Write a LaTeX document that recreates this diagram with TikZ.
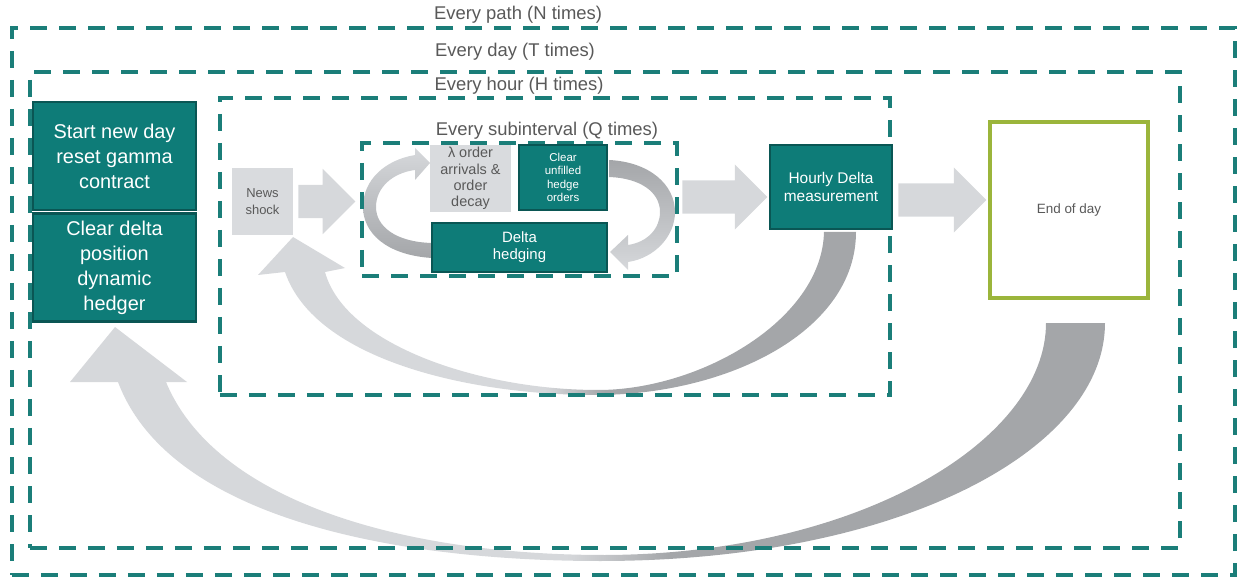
\documentclass[tikz,border=0pt]{standalone}
\usepackage{fontspec}
\setmainfont{Liberation Sans}
\usetikzlibrary{shapes.arrows,calc}
\definecolor{tealbox}{HTML}{0E7C78}
\definecolor{tealedge}{HTML}{0A5654}
\definecolor{dashteal}{HTML}{1B7E79}
\definecolor{greybox}{HTML}{D9DBDE}
\definecolor{arrowlight}{HTML}{D6D8DB}
\definecolor{arrowdark}{HTML}{A4A6A9}
\definecolor{olive}{HTML}{9BB53B}
\definecolor{labelgrey}{HTML}{595959}
\pgfdeclarehorizontalshading{ribbon}{100bp}{color(0bp)=(arrowlight); color(49bp)=(arrowlight); color(54bp)=(arrowdark); color(100bp)=(arrowdark)}
\tikzset{
  loopbox/.style={draw=dashteal, line width=4.5bp, dash pattern=on 17bp off 12bp, inner sep=0pt},
  looplabel/.style={text=labelgrey, font=\fontsize{18.5}{21}\selectfont, inner sep=1pt},
  tealnode/.style={fill=tealbox, draw=tealedge, line width=2.5bp, text=white, align=center, inner sep=0pt},
  greynode/.style={fill=greybox, text=labelgrey, align=center, inner sep=0pt},
  blockarrow/.style={single arrow, fill=arrowlight, inner xsep=0pt, inner ysep=16.5bp, single arrow head extend=16bp, single arrow head indent=0pt, anchor=tail},
  bigribbon/.style={shading=ribbon}
}
\begin{document}
\begin{tikzpicture}[x=1bp,y=-1bp]
\useasboundingbox (0,0) rectangle (1244,579);

% curved arrows, behind the boxes
\shade[top color=arrowlight, bottom color=arrowdark] (432,258) .. controls (385,255) and (363,232) .. (363,207) .. controls (363,180) and (385,160) .. (415,155) -- (415,148) -- (430,163) -- (415,180) -- (415,170) .. controls (392,173) and (376,188) .. (376,207) .. controls (376,226) and (395,242) .. (432,243) -- cycle;
\shade[top color=arrowdark, bottom color=arrowlight] (609,160) .. controls (650,162) and (675,185) .. (675,212) .. controls (675,236) and (655,258) .. (628,262) -- (628,270) -- (610,252) -- (628,235) -- (628,245) .. controls (648,242) and (660,228) .. (660,212) .. controls (660,192) and (640,178) .. (609,177) -- cycle;
\shade[bigribbon] (285,272) .. controls (315,360) and (470,395) .. (595,395) .. controls (730,395) and (856,330) .. (856,232) -- (824,232) .. controls (822,320) and (700,390) .. (598,390) .. controls (480,390) and (345,345) .. (325,272) -- (345,268) -- (293,237) -- (258,275) -- cycle;
\shade[bigribbon] (118,382) .. controls (170,520) and (400,561) .. (600,561) .. controls (900,561) and (1105,450) .. (1105,323) -- (1046,323) .. controls (1046,440) and (860,554) .. (605,555) .. controls (400,555) and (215,500) .. (166,382) -- (187,382) -- (115,327) -- (70,382) -- cycle;

\node[loopbox, minimum width=1223bp, minimum height=547bp] (path) at (623.5,301.5) {};
\node[loopbox, minimum width=1150bp, minimum height=476bp] (day) at (605,310) {};
\node[loopbox, minimum width=670bp, minimum height=297bp] (hour) at (555,246.5) {};
\node[loopbox, minimum width=315bp, minimum height=133bp] (sub) at (519.5,209.5) {};
\node[looplabel] (pathlabel) at (518,15) {Every path (N times)};
\node[looplabel] (daylabel) at (515,52) {Every day (T times)};
\node[looplabel] (hourlabel) at (519,86) {Every hour (H times)};
\node[looplabel] (sublabel) at (547,131) {Every subinterval (Q times)};

\node[tealnode, minimum width=163bp, minimum height=108bp, font=\fontsize{20}{25}\selectfont] (start) at (114.5,156) {Start new day\\reset gamma\\contract};
\node[tealnode, minimum width=163bp, minimum height=108bp, font=\fontsize{20}{25}\selectfont] (cleardelta) at (114.5,267.5) {Clear delta\\position\\dynamic\\hedger};
\node[greynode, minimum width=61bp, minimum height=67bp, font=\fontsize{13}{17}\selectfont] (news) at (262.5,201.5) {News\\shock};
\node[greynode, minimum width=81bp, minimum height=67bp, font=\fontsize{14.5}{16.5}\selectfont] (arrivals) at (470.5,178.5) {λ order\\arrivals \&\\order\\decay};
\node[tealnode, minimum width=88bp, minimum height=65bp, font=\fontsize{11.5}{13.5}\selectfont] (clearorders) at (563,177.5) {Clear\\unfilled\\hedge\\orders};
\node[tealnode, minimum width=175bp, minimum height=49bp, font=\fontsize{15}{17}\selectfont] (hedging) at (519.5,247.5) {Delta\\hedging};
\node[tealnode, minimum width=122bp, minimum height=84bp, font=\fontsize{15.5}{19}\selectfont] (hourly) at (831,187) {Hourly Delta\\measurement};
\node[draw=olive, line width=4bp, fill=white, text=labelgrey, minimum width=158bp, minimum height=176bp, font=\fontsize{13.5}{16}\selectfont] (endday) at (1069,210) {End of day};

\node[blockarrow, minimum height=57bp] (newsarrow) at ($(news.east)+(5,0)$) {};
\node[blockarrow, minimum height=85bp] (subarrow) at ($(sub.east)+(3,-12.5)$) {};
\node[blockarrow, minimum height=88bp] (hourlyarrow) at ($(hourly.east)+(5,13)$) {};
\end{tikzpicture}
\end{document}
